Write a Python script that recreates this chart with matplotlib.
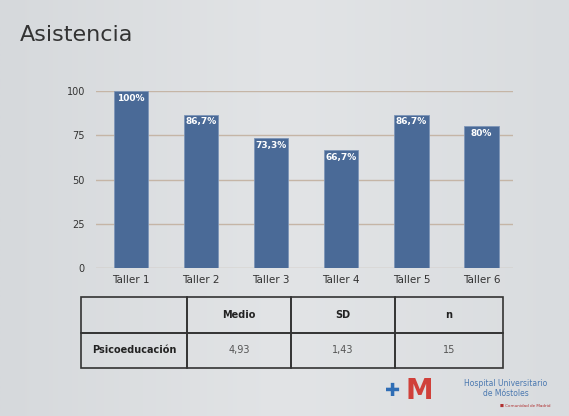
import matplotlib
matplotlib.use("Agg")
import matplotlib.pyplot as plt
import numpy as np

categories = ["Taller 1", "Taller 2", "Taller 3", "Taller 4", "Taller 5", "Taller 6"]
values = [100, 86.7, 73.3, 66.7, 86.7, 80]
value_labels = ["100%", "86,7%", "73,3%", "66,7%", "86,7%", "80%"]
yticks = [0, 25, 50, 75, 100]

table_header = ["", "Medio", "SD", "n"]
table_row = ["Psicoeducación", "4,93", "1,43", "15"]

W, H = 569, 416
fig = plt.figure(figsize=(W / 100, H / 100), dpi=100)
fig.patch.set_facecolor("#dcdfe2")

# subtle background gradient
bg = fig.add_axes([0, 0, 1, 1], zorder=-10)
grad = np.linspace(0, 1, 256).reshape(1, -1)
from matplotlib.colors import LinearSegmentedColormap
cmap = LinearSegmentedColormap.from_list("bg", ["#d6d9dc", "#e2e4e6", "#d9dcdf"])
bg.imshow(grad, aspect="auto", cmap=cmap, extent=[0, 1, 0, 1])
bg.axis("off")

fig.text(20 / W, 1 - 35 / H, "Asistencia", fontsize=16, color="#333333",
         ha="left", va="center")

# chart axes
ax = fig.add_axes([96 / W, 148 / H, (513 - 96) / W, 177 / H])
ax.set_facecolor("none")
x = np.arange(len(categories))
bars = ax.bar(x, values, width=0.49, color="#4a6a97", edgecolor="#7d95b8",
              linewidth=0.6, zorder=3)
ax.set_xlim(-0.5, 5.45)
ax.set_ylim(0, 100)
ax.set_yticks(yticks)
ax.set_yticklabels([str(t) for t in yticks], fontsize=7, color="#333333")
ax.set_xticks(x)
ax.set_xticklabels(categories, fontsize=7.5, color="#333333")
ax.tick_params(axis="both", length=0, pad=8)
ax.tick_params(axis="x", pad=5)
ax.grid(axis="y", color="#c5b5a6", linewidth=1, zorder=0)
for s in ax.spines.values():
    s.set_visible(False)
for xi, v, lab in zip(x, values, value_labels):
    ax.text(xi, v - 1.5, lab, ha="center", va="top", fontsize=6.5,
            color="white", fontweight="bold", zorder=4)

# table
tax = fig.add_axes([81 / W, 48 / H, (503 - 81) / W, 71 / H])
tax.axis("off")
tbl = tax.table(cellText=[table_header, table_row], bbox=[0, 0, 1, 1],
                colWidths=[106, 104, 104, 108], cellLoc="center")
tbl.auto_set_font_size(False)
for (r, c), cell in tbl.get_celld().items():
    cell.set_facecolor("none")
    cell.set_edgecolor("#333333")
    cell.set_linewidth(1.2)
    txt = cell.get_text()
    txt.set_fontsize(7)
    txt.set_color("#222222")
    if r == 0 or c == 0:
        txt.set_fontweight("bold")
    else:
        txt.set_color("#555555")

# logo
fig.text(406 / W, 1 - 391 / H, "M", fontsize=20, color="#d0403a",
         fontweight="bold", ha="left", va="center")
fig.text(393 / W, 1 - 391 / H, "✚", fontsize=13, color="#2f6db5",
         ha="center", va="center")
fig.text(506 / W, 1 - 384 / H, "Hospital Universitario", fontsize=5.5,
         color="#4a78b0", ha="center", va="center")
fig.text(506 / W, 1 - 393 / H, "de Móstoles", fontsize=5.5,
         color="#4a78b0", ha="center", va="center")
fig.text(525 / W, 1 - 406 / H, "■ Comunidad de Madrid", fontsize=3,
         color="#b03030", ha="center", va="center")

fig.savefig("out.png", dpi=100, facecolor=fig.get_facecolor())
